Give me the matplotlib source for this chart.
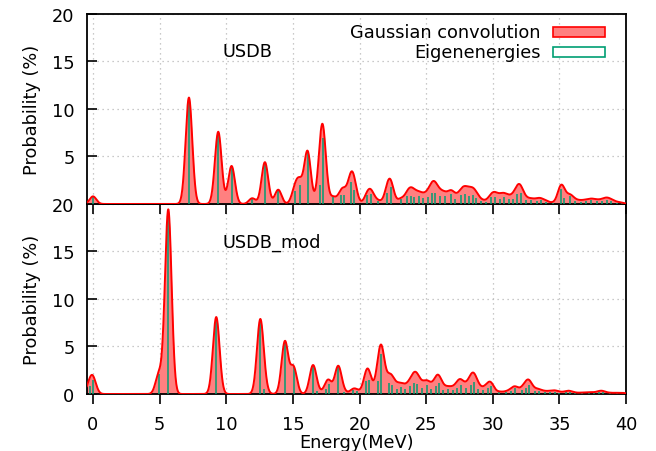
import matplotlib.pyplot as plt
import numpy as np
from matplotlib.patches import Rectangle

# Eigenenergias (MeV) y probabilidades (%)
usdb_E = [0.0, 7.2, 9.4, 10.4, 11.95, 12.9, 13.9, 15.15, 15.5, 16.1, 17.05, 17.25,
          18.0, 18.6, 18.85, 19.35, 19.6, 20.6, 20.9, 21.4, 22.1, 22.35, 23.1, 23.6,
          23.85, 24.1, 24.45, 24.8, 25.15, 25.45, 25.7, 26.05, 26.4, 26.85, 27.2, 27.6,
          27.9, 28.2, 28.5, 28.75, 29.1, 29.5, 29.9, 30.2, 30.55, 30.85, 31.2, 31.55,
          31.85, 32.1, 32.5, 32.9, 33.3, 33.6, 34.0, 34.5, 35.1, 35.35, 35.8, 36.2,
          36.6, 37.0, 37.4, 37.8, 38.2, 38.55, 38.9, 39.3, 39.7]
usdb_P = [0.8, 11.2, 7.6, 4.0, 0.6, 4.4, 1.5, 1.4, 2.0, 5.5, 2.0, 6.9,
          0.7, 0.9, 0.9, 2.3, 1.5, 0.9, 1.0, 0.3, 1.2, 1.8, 0.5, 0.8,
          0.8, 0.7, 0.8, 0.6, 0.7, 1.2, 1.2, 0.8, 0.8, 1.1, 0.5, 0.9,
          1.0, 0.8, 0.9, 0.6, 0.3, 0.2, 0.7, 0.7, 0.5, 0.7, 0.5, 0.5,
          1.0, 1.2, 0.4, 0.4, 0.3, 0.4, 0.25, 0.1, 1.6, 0.6, 0.8, 0.3,
          0.25, 0.3, 0.4, 0.3, 0.3, 0.45, 0.3, 0.15, 0.1]

mod_E = [-0.25, 0.0, 4.95, 5.65, 9.25, 12.55, 12.85, 14.4, 15.05, 16.5, 16.8, 17.5,
         17.7, 18.4, 18.8, 19.5, 19.8, 20.5, 20.7, 21.4, 21.65, 22.2, 22.45, 22.8,
         23.1, 23.45, 23.8, 24.1, 24.35, 24.7, 25.05, 25.4, 25.75, 25.95, 26.3, 26.65,
         27.0, 27.35, 27.6, 28.0, 28.35, 28.6, 28.9, 29.3, 29.65, 29.9, 30.5, 31.0,
         31.4, 31.7, 32.2, 32.5, 32.75, 33.2, 33.5, 33.9, 34.3, 34.65, 35.0, 35.5,
         35.8, 36.2, 36.7, 37.2, 37.6, 38.0, 38.3, 38.8, 39.3, 39.8]
mod_P = [0.8, 1.45, 2.1, 19.4, 8.1, 7.65, 0.5, 5.5, 2.8, 2.9, 0.3, 0.5,
         1.1, 2.9, 0.2, 0.4, 0.3, 1.4, 1.5, 1.4, 4.2, 1.2, 1.0, 0.5,
         0.7, 0.5, 0.8, 1.2, 1.1, 0.6, 1.0, 0.5, 0.8, 1.2, 0.4, 0.5,
         0.4, 0.6, 1.0, 0.6, 1.0, 1.3, 0.5, 0.4, 0.6, 0.8, 0.2, 0.2,
         0.3, 0.6, 0.4, 0.6, 1.0, 0.3, 0.3, 0.2, 0.2, 0.25, 0.15, 0.2,
         0.2, 0.1, 0.12, 0.15, 0.1, 0.2, 0.2, 0.1, 0.1, 0.1]

sigma = 0.25   # ancho de la gaussiana (MeV)
x_ticks = [0, 5, 10, 15, 20, 25, 30, 35, 40]
y_ticks = [0, 5, 10, 15, 20]

plt.rcParams['font.family'] = 'DejaVu Sans'
plt.rcParams['font.size'] = 12.8

fig = plt.figure(figsize=(6.56, 4.52), dpi=100)
ax_top = fig.add_axes([0.1326, 0.5465, 0.8217, 0.4204])
ax_bot = fig.add_axes([0.1326, 0.1261, 0.8217, 0.4204])

E = np.linspace(-0.5, 40, 3000)


def panel(ax, energias, probs, etiqueta):
    conv = np.zeros_like(E)
    for e0, p0 in zip(energias, probs):
        conv += p0 * np.exp(-(E - e0) ** 2 / (2 * sigma ** 2))
    ax.fill_between(E, 0, conv, color='#ff8080', lw=0, zorder=2)   # convolucion
    ax.vlines(energias, 0, probs, color='#009e73', lw=1.1, zorder=3)   # barras
    ax.plot(E, conv, color='#ff0000', lw=1.4, zorder=4)
    ax.set_xlim(-0.45, 40)
    ax.set_ylim(0, 20)
    ax.set_xticks(x_ticks)
    ax.set_yticks(y_ticks)
    ax.grid(True, color='#b8b8b8', ls=(0, (1, 3)), lw=0.9)
    ax.tick_params(axis='x', direction='out', length=7, width=1.2, pad=8, top=False)
    ax.tick_params(axis='y', direction='in', length=7, width=1.2, pad=9, right=False)
    for s in ax.spines.values():
        s.set_linewidth(1.3)
    ax.set_ylabel('Probability (%)', labelpad=8)
    ax.text(9.75, 16.05, etiqueta, va='center', ha='left')


panel(ax_top, usdb_E, usdb_P, 'USDB')
panel(ax_bot, mod_E, mod_P, 'USDB_mod')
ax_top.set_xticklabels([])
ax_top.set_yticklabels(['', '5', '10', '15', '20'])   # el 20 de abajo ocupa ese sitio
ax_bot.set_xlabel('Energy(MeV)', labelpad=0)
ax_top.set_zorder(2)
ax_top.patch.set_alpha(0)

# leyenda estilo gnuplot
ax_top.text(0.842, 0.905, 'Gaussian convolution', transform=ax_top.transAxes, ha='right', va='center')
ax_top.text(0.842, 0.800, 'Eigenenergies', transform=ax_top.transAxes, ha='right', va='center')
ax_top.add_patch(Rectangle((0.865, 0.879), 0.096, 0.053, transform=ax_top.transAxes,
                           facecolor='#ff8080', edgecolor='#ff0000', lw=1.2, zorder=5))
ax_top.add_patch(Rectangle((0.865, 0.774), 0.096, 0.052, transform=ax_top.transAxes,
                           facecolor='white', edgecolor='#009e73', lw=1.2, zorder=5))

fig.savefig('out.png', dpi=100)
